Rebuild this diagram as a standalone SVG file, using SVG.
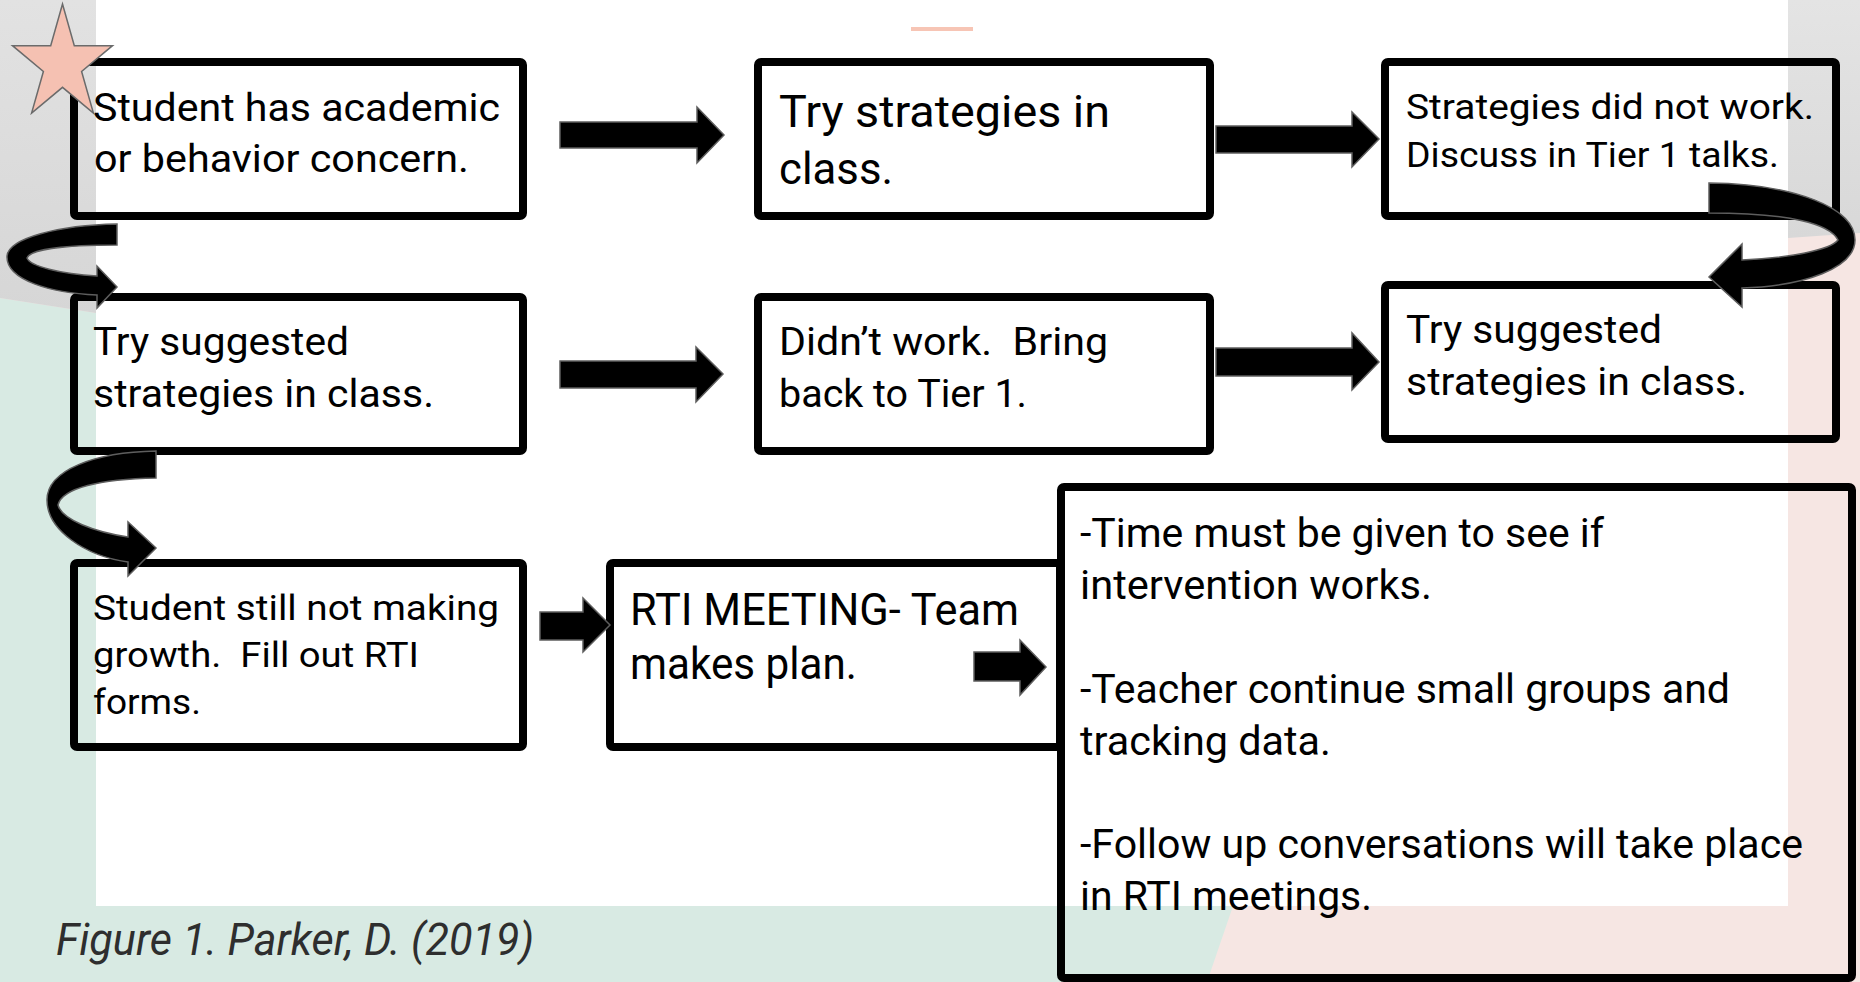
<svg xmlns="http://www.w3.org/2000/svg" width="1860" height="982" viewBox="0 0 1860 982" xml:space="preserve">
<defs>
<style>
.box{fill:none;stroke:#000;stroke-width:8;stroke-linejoin:round}
.t{font-family:Roboto,"Liberation Sans",sans-serif;fill:#000;white-space:pre}
.arr{fill:#000;stroke:#5e5e5e;stroke-width:1.5;stroke-linejoin:miter}
.cap{font-family:Roboto,"Liberation Sans",sans-serif;font-style:italic;fill:#2e2e2e}
</style>
<linearGradient id="gl" x1="0" y1="0" x2="0" y2="1">
<stop offset="0" stop-color="#e2e2e2"/><stop offset="1" stop-color="#d6d6d6"/>
</linearGradient>
<linearGradient id="gr" x1="0" y1="0" x2="0" y2="1">
<stop offset="0" stop-color="#e4e4e4"/><stop offset="1" stop-color="#d8d8d8"/>
</linearGradient>
</defs>
<g id="background">
<rect x="0" y="0" width="1860" height="982" fill="#f6e6e3"/>
<polygon points="0,298 96,313 96,906 1233,906 1207,982 0,982" fill="#d8eae3"/>
<polygon points="0,0 96,0 96,313 0,298" fill="url(#gl)"/>
<polygon points="1788,0 1860,0 1860,233 1788,238" fill="url(#gr)"/>
<rect x="96" y="0" width="1692" height="906" fill="#fff"/>
<rect x="911" y="27" width="62" height="4" fill="#f7c5b5"/>
</g>
<g id="n1">
<rect class="box" x="74" y="62" width="449" height="154" rx="3"/>
<polygon points="62.5,4 74.3,45.7 112.5,45.7 81.6,71.4 93.4,113 62.5,87.3 31.6,113 43.4,71.4 12.5,45.7 50.7,45.7" fill="#f5c1b2" stroke="#6b6b6b" stroke-width="1.5"/>
<text class="t" font-size="38" x="93" y="121" textLength="407" lengthAdjust="spacingAndGlyphs">Student has academic</text>
<text class="t" font-size="38" x="94" y="172" textLength="375" lengthAdjust="spacingAndGlyphs">or behavior concern.</text>
</g>
<g id="n2">
<rect class="box" x="758" y="62" width="452" height="154" rx="3"/>
<text class="t" font-size="45" x="779" y="127" textLength="331" lengthAdjust="spacingAndGlyphs">Try strategies in</text>
<text class="t" font-size="45" x="779" y="184" textLength="114" lengthAdjust="spacingAndGlyphs">class.</text>
</g>
<g id="n3">
<rect class="box" x="1385" y="62" width="451" height="154" rx="3"/>
<text class="t" font-size="35" x="1406" y="119" textLength="408" lengthAdjust="spacingAndGlyphs">Strategies did not work.</text>
<text class="t" font-size="35" x="1406" y="167" textLength="373" lengthAdjust="spacingAndGlyphs">Discuss in Tier 1 talks.</text>
</g>
<g id="n4">
<rect class="box" x="74" y="297" width="449" height="154" rx="3"/>
<text class="t" font-size="38" x="93" y="355" textLength="256" lengthAdjust="spacingAndGlyphs">Try suggested</text>
<text class="t" font-size="38" x="93" y="407" textLength="341" lengthAdjust="spacingAndGlyphs">strategies in class.</text>
</g>
<g id="n5">
<rect class="box" x="758" y="297" width="452" height="154" rx="3"/>
<text class="t" font-size="38" x="779" y="355" textLength="329" lengthAdjust="spacingAndGlyphs">Didn’t work.  Bring</text>
<text class="t" font-size="38" x="779" y="407" textLength="248" lengthAdjust="spacingAndGlyphs">back to Tier 1.</text>
</g>
<g id="n6">
<rect class="box" x="1385" y="285" width="451" height="154" rx="3"/>
<text class="t" font-size="38" x="1406" y="343" textLength="256" lengthAdjust="spacingAndGlyphs">Try suggested</text>
<text class="t" font-size="38" x="1406" y="395" textLength="341" lengthAdjust="spacingAndGlyphs">strategies in class.</text>
</g>
<g id="n7">
<rect class="box" x="74" y="563" width="449" height="184" rx="3"/>
<text class="t" font-size="35" x="93" y="620" textLength="406" lengthAdjust="spacingAndGlyphs">Student still not making</text>
<text class="t" font-size="35" x="93" y="667" textLength="326" lengthAdjust="spacingAndGlyphs">growth.  Fill out RTI</text>
<text class="t" font-size="35" x="93" y="714" textLength="108" lengthAdjust="spacingAndGlyphs">forms.</text>
</g>
<g id="n8">
<rect class="box" x="610" y="563" width="450" height="184" rx="3"/>
<text class="t" font-size="44" x="630" y="625" textLength="389" lengthAdjust="spacingAndGlyphs">RTI MEETING- Team</text>
<text class="t" font-size="44" x="630" y="679" textLength="227" lengthAdjust="spacingAndGlyphs">makes plan.</text>
</g>
<g id="n9">
<rect class="box" x="1061" y="487" width="791" height="491" rx="3"/>
<text class="t" font-size="41" x="1080" y="547" textLength="524" lengthAdjust="spacingAndGlyphs">-Time must be given to see if</text>
<text class="t" font-size="41" x="1080" y="599" textLength="352" lengthAdjust="spacingAndGlyphs">intervention works.</text>
<text class="t" font-size="41" x="1080" y="703" textLength="650" lengthAdjust="spacingAndGlyphs">-Teacher continue small groups and</text>
<text class="t" font-size="41" x="1080" y="755" textLength="251" lengthAdjust="spacingAndGlyphs">tracking data.</text>
<text class="t" font-size="41" x="1080" y="858" textLength="723" lengthAdjust="spacingAndGlyphs">-Follow up conversations will take place</text>
<text class="t" font-size="41" x="1080" y="910" textLength="292" lengthAdjust="spacingAndGlyphs">in RTI meetings.</text>
</g>
<g id="connectors">
<path class="arr" d="M560 122 H697 V107 L724 135 L697 163 V148 H560 Z"/>
<path class="arr" d="M1216 126 H1352 V112 L1379 139 L1352 167 V153 H1216 Z"/>
<path class="arr" d="M560 361 H696 V347 L723 374 L696 402 V388 H560 Z"/>
<path class="arr" d="M1216 348 H1352 V333 L1379 362 L1352 390 V376 H1216 Z"/>
<path class="arr" d="M540 612 H583 V598 L610 625 L583 652 V640 H540 Z"/>
<path class="arr" d="M974 652 H1020 V640 L1046 667 L1020 695 V681 H974 Z"/>
<path class="arr" d="M117 224 C60 225 7 238 7 257 C7 280 50 293 97 295 L97 308 L117 287 L97 266 L97 276 C60 274 30 266 27 258 C30 250 60 245 117 245 Z"/>
<path class="arr" d="M156 451 C95 452 47 470 47 500 C47 530 85 556 128 562 L128 576 L156 548 L128 522 L128 537 C95 532 62 520 58 505 C62 488 100 479 156 478 Z"/>
<path class="arr" d="M1709 183 C1795 184 1855 208 1855 240 C1855 268 1805 286 1742 288 L1742 307 L1709 277 L1742 244 L1742 260 C1790 258 1830 250 1838 240 C1830 224 1790 213 1709 213 Z"/>
</g>
<g id="caption">
<text class="cap" font-size="44" x="56" y="955" textLength="478" lengthAdjust="spacingAndGlyphs">Figure 1. Parker, D. (2019)</text>
</g>
</svg>
